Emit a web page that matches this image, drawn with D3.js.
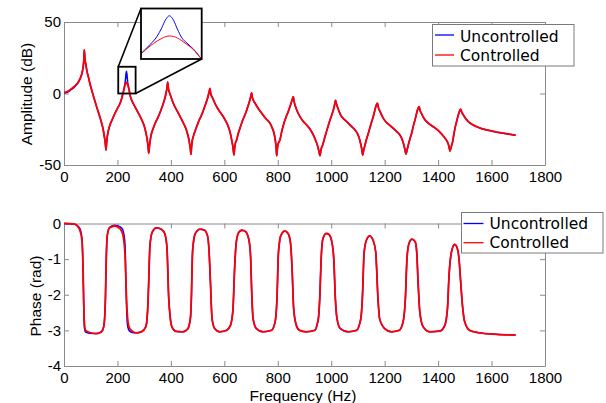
<!DOCTYPE html>
<html>
<head>
<meta charset="utf-8">
<script src="https://cdn.jsdelivr.net/npm/d3@7"></script>
<style>
  html, body { margin: 0; padding: 0; background: #fff; }
  svg { display: block; }
  .axis .tick text { font-family: "Liberation Sans", Arial, sans-serif; font-size: 15px; fill: #000; }
  .axis path, .axis line { stroke: #8a8a8a; }
  .label { font-family: "Liberation Sans", Arial, sans-serif; font-size: 15.5px; fill: #000; }
  .legend text { font-family: "DejaVu Sans", sans-serif; font-size: 15.5px; fill: #000; }
</style>
</head>
<body>
<svg id="chart" width="606" height="403"></svg>
<script>
// ---- amplitude response (dB) ----
const freqAmp = [
  0, 10, 22, 41, 55, 61, 67, 72, 74.5, 76, 78, 82, 86, 91, 97, 103.5, 112, 122, 131, 141, 147, 151, 154.5, 157,
  159.5, 162, 166, 172, 181, 191, 201, 210, 216, 222, 225.8, 228.5, 230.6, 232, 233.7, 235.4, 237, 238.8, 240.9, 243.6, 247, 253, 262, 272, 282, 291, 300, 307, 312, 315, 317,
  320, 324, 334, 343, 353, 363, 372, 378, 382, 385.5, 388, 391, 397, 409, 428, 447, 458, 465, 470, 473, 475,
  477.5, 480, 484, 490, 496.5, 505, 515, 523, 531, 537, 541, 544, 546, 549, 556.5, 571, 584, 596, 606, 615, 622, 627.5, 632, 636,
  638.5, 641, 646, 652, 658.5, 667, 677, 684, 690, 695, 699, 702, 705, 715, 727, 740, 755, 771, 779, 786, 791, 794, 796,
  798.5, 801, 808, 815, 823, 831, 839, 846, 852, 855.5, 858, 861, 871, 883, 895, 908, 921, 933, 941, 948, 953, 958,
  962, 968, 974, 980.5, 988, 995.5, 1002, 1008, 1012.5, 1016, 1019, 1023, 1030, 1039, 1051, 1064, 1076, 1089, 1098, 1105, 1110, 1114, 1118,
  1121, 1126.5, 1132, 1139, 1147, 1155.5, 1161, 1165, 1169, 1173, 1176, 1183, 1192, 1201, 1216, 1232, 1245, 1257, 1265, 1270, 1275, 1280,
  1283, 1288.5, 1295, 1301, 1307, 1313.5, 1318, 1322, 1326, 1329, 1332, 1338.5, 1347, 1357, 1376, 1395, 1408, 1419.5, 1428, 1434.5, 1440, 1444.5,
  1448, 1451, 1454.5, 1459, 1464.5, 1470, 1475.5, 1480, 1484.5, 1488, 1494.5, 1503, 1513, 1527, 1544, 1562, 1582, 1607, 1632, 1660, 1690
];
const ampUncontrolled = [
  0.3, 0.6, 2.0, 4.9, 8.2, 10.6, 14.0, 19.2, 24.5, 30.5, 25.0, 20.0, 15.5, 11.8, 7.0, 2.5, -3.0, -9.2, -14.5, -20.8, -25.5, -30.2, -34.5, -39.5,
  -34.5, -30.2, -26.0, -22.0, -18.0, -13.8, -10.0, -6.8, -3.3, 1.1, 4.6, 7.5, 11.0, 13.8, 15.5, 13.8, 10.4, 7.1, 5.1, 2.8, -1.0, -4.5, -8.0, -11.5, -15.0, -18.5, -22.5, -27.8, -33.0, -37.5, -41.8,
  -36.5, -31.0, -24.3, -20.0, -16.2, -11.5, -6.8, -3.0, 0.5, 4.0, 7.9, 3.0, -0.5, -6.8, -13.8, -20.8, -25.5, -30.2, -35.0, -39.0, -42.5,
  -37.0, -33.0, -30.0, -26.5, -23.2, -19.0, -15.0, -11.0, -6.8, -3.5, -0.5, 1.8, 3.5, 0.0, -3.3, -9.2, -13.0, -16.2, -19.5, -23.2, -27.5, -32.5, -37.0, -43.0,
  -38.0, -35.0, -32.5, -28.0, -24.3, -19.5, -15.0, -11.5, -8.0, -5.0, -2.0, 0.5, -3.0, -6.8, -10.5, -13.8, -17.5, -20.8, -24.0, -27.8, -33.0, -38.0, -43.5,
  -38.5, -35.5, -32.5, -26.5, -20.8, -16.5, -12.7, -9.0, -5.5, -3.5, -2.2, -5.5, -11.5, -16.2, -19.5, -22.0, -25.0, -29.0, -32.5, -36.0, -39.5, -43.5,
  -39.0, -36.0, -32.0, -27.8, -23.0, -18.5, -15.0, -11.5, -8.0, -4.8, -7.0, -9.2, -12.8, -16.2, -18.5, -20.8, -23.0, -25.5, -28.0, -31.3, -35.0, -38.5, -43.0,
  -40.0, -36.0, -32.0, -27.8, -22.5, -17.3, -13.5, -10.3, -8.0, -6.8, -9.5, -12.7, -16.3, -19.0, -21.8, -24.3, -26.6, -29.0, -32.0, -34.8, -38.5, -42.3,
  -40.0, -36.0, -31.5, -27.8, -23.0, -18.5, -15.0, -12.0, -10.0, -9.2, -11.5, -14.3, -17.3, -19.7, -22.5, -25.0, -27.3, -29.7, -31.8, -33.7, -36.5, -40.2,
  -38.0, -36.0, -33.7, -28.5, -23.2, -19.0, -15.0, -12.5, -11.0, -12.8, -15.0, -17.5, -19.7, -21.6, -23.2, -24.5, -25.5, -26.5, -27.4, -28.3, -29.2
];
const ampControlled = [
  0.8, 1.1, 2.5, 5.3, 8.5, 10.7, 14.0, 19.0, 24.0, 30.5, 25.0, 20.0, 15.5, 11.8, 7.0, 2.5, -3.0, -9.2, -14.5, -20.8, -25.5, -30.2, -34.5, -39.5,
  -34.5, -30.2, -26.0, -22.0, -18.0, -13.8, -10.0, -6.8, -3.5, 1.0, 4.0, 5.8, 6.9, 7.5, 7.8, 7.6, 7.0, 6.0, 4.6, 2.6, -1.0, -4.5, -8.0, -11.5, -15.0, -18.5, -22.5, -27.8, -33.0, -37.5, -41.8,
  -36.5, -31.0, -24.3, -20.0, -16.2, -11.5, -6.8, -3.0, 0.5, 4.0, 7.9, 3.0, -0.5, -6.8, -13.8, -20.8, -25.5, -30.2, -35.0, -39.0, -42.5,
  -37.0, -33.0, -30.0, -26.5, -23.2, -19.0, -15.0, -11.0, -6.8, -3.5, -0.5, 1.8, 3.5, 0.0, -3.3, -9.2, -13.0, -16.2, -19.5, -23.2, -27.5, -32.5, -37.0, -43.0,
  -38.0, -35.0, -32.5, -28.0, -24.3, -19.5, -15.0, -11.5, -8.0, -5.0, -2.0, 0.5, -3.0, -6.8, -10.5, -13.8, -17.5, -20.8, -24.0, -27.8, -33.0, -38.0, -43.5,
  -38.5, -35.5, -32.5, -26.5, -20.8, -16.5, -12.7, -9.0, -5.5, -3.5, -2.2, -5.5, -11.5, -16.2, -19.5, -22.0, -25.0, -29.0, -32.5, -36.0, -39.5, -43.5,
  -39.0, -36.0, -32.0, -27.8, -23.0, -18.5, -15.0, -11.5, -8.0, -4.8, -7.0, -9.2, -12.8, -16.2, -18.5, -20.8, -23.0, -25.5, -28.0, -31.3, -35.0, -38.5, -43.0,
  -40.0, -36.0, -32.0, -27.8, -22.5, -17.3, -13.5, -10.3, -8.0, -6.8, -9.5, -12.7, -16.3, -19.0, -21.8, -24.3, -26.6, -29.0, -32.0, -34.8, -38.5, -42.3,
  -40.0, -36.0, -31.5, -27.8, -23.0, -18.5, -15.0, -12.0, -10.0, -9.2, -11.5, -14.3, -17.3, -19.7, -22.5, -25.0, -27.3, -29.7, -31.8, -33.7, -36.5, -40.2,
  -38.0, -36.0, -33.7, -28.5, -23.2, -19.0, -15.0, -12.5, -11.0, -12.8, -15.0, -17.5, -19.7, -21.6, -23.2, -24.5, -25.5, -26.5, -27.4, -28.3, -29.2
];

// ---- phase response (rad) ----
const freqPhase = [
  0, 20, 40, 52, 61, 67.5, 71, 73.7, 76, 81, 96, 121, 140, 148.5, 152.5, 155, 158.5, 162, 171, 190, 208.5, 216, 221, 225, 228.5, 233.5, 236.5, 239.5, 245, 252, 271,
  290, 306, 310.5, 314.5, 318, 321, 325, 331, 346, 358, 370, 377, 382, 385.5, 392, 397, 402, 410, 420.5, 445,
  464, 470, 474, 477, 480.5, 484, 489, 497, 508, 526.5, 534, 539, 543, 548, 554, 564, 582.7,
  608, 623, 628, 632.5, 639, 645, 654, 666, 680, 689, 694, 698, 702.5, 707.5, 720, 745,
  776, 788.5, 793, 797, 802, 806, 810, 826, 838.5, 847, 853, 859.5, 869.5, 882, 907,
  938, 948, 953, 957, 963, 969, 982, 992, 1001, 1009.5, 1015.5, 1021.7, 1034, 1063,
  1094, 1106.5, 1112, 1116.5, 1122.5, 1127, 1131.7, 1144, 1156.7, 1166.5, 1175, 1181, 1200, 1225,
  1254, 1269, 1277.5, 1283.5, 1291, 1302.5, 1314, 1320, 1325, 1331.5, 1344, 1369,
  1406.5, 1425, 1435, 1441, 1450, 1462, 1472, 1478, 1484.5, 1491, 1499.5, 1518, 1555.5, 1618, 1690
];
const phaseUncontrolled = [
  0, -0.005, -0.02, -0.07, -0.17, -0.42, -1.2, -2.3, -2.9, -3.05, -3.08, -3.09, -3.04, -2.9, -2.6, -2.11, -0.89, -0.33, -0.11, -0.05, -0.09, -0.13, -0.2, -0.35, -0.62, -2.2, -2.75, -2.92, -3.02, -3.05, -3.07,
  -3.04, -2.9, -2.7, -2.2, -1.4, -0.7, -0.4, -0.23, -0.12, -0.14, -0.2, -0.28, -0.45, -0.7, -2.11, -2.6, -2.86, -2.98, -3.03, -3.04,
  -2.95, -2.8, -2.58, -2.0, -0.89, -0.55, -0.33, -0.22, -0.16, -0.19, -0.28, -0.42, -0.8, -1.64, -2.67, -2.95, -3.04,
  -3.0, -2.86, -2.7, -2.39, -1.17, -0.51, -0.25, -0.19, -0.23, -0.37, -0.55, -0.89, -1.92, -2.67, -2.95, -3.04,
  -3.0, -2.81, -2.6, -2.11, -0.89, -0.55, -0.37, -0.21, -0.28, -0.51, -1.17, -2.39, -2.86, -3.0, -3.04,
  -3.0, -2.81, -2.6, -2.11, -0.89, -0.42, -0.28, -0.31, -0.47, -0.98, -2.11, -2.67, -2.95, -3.04,
  -3.0, -2.81, -2.6, -2.11, -0.89, -0.6, -0.47, -0.35, -0.47, -0.8, -2.11, -2.67, -2.95, -3.04,
  -3.0, -2.76, -2.11, -0.98, -0.56, -0.44, -0.51, -0.8, -1.64, -2.48, -2.9, -3.04,
  -3.02, -2.86, -2.39, -1.45, -0.8, -0.59, -0.7, -0.98, -1.64, -2.29, -2.76, -3.0, -3.07, -3.11, -3.13
];
const phaseControlled = [
  0, -0.005, -0.02, -0.09, -0.23, -0.51, -1.17, -2.11, -2.76, -3.0, -3.06, -3.09, -3.04, -2.9, -2.6, -2.11, -0.89, -0.33, -0.12, -0.07, -0.14, -0.22, -0.33, -0.55, -0.89, -2.01, -2.5, -2.76, -2.93, -3.0, -3.07,
  -3.04, -2.9, -2.7, -2.2, -1.4, -0.7, -0.4, -0.23, -0.12, -0.14, -0.2, -0.28, -0.45, -0.7, -2.11, -2.6, -2.86, -2.98, -3.03, -3.04,
  -2.95, -2.8, -2.58, -2.0, -0.89, -0.55, -0.33, -0.22, -0.16, -0.19, -0.28, -0.42, -0.8, -1.64, -2.67, -2.95, -3.04,
  -3.0, -2.86, -2.7, -2.39, -1.17, -0.51, -0.25, -0.19, -0.23, -0.37, -0.55, -0.89, -1.92, -2.67, -2.95, -3.04,
  -3.0, -2.81, -2.6, -2.11, -0.89, -0.55, -0.37, -0.21, -0.28, -0.51, -1.17, -2.39, -2.86, -3.0, -3.04,
  -3.0, -2.81, -2.6, -2.11, -0.89, -0.42, -0.28, -0.31, -0.47, -0.98, -2.11, -2.67, -2.95, -3.04,
  -3.0, -2.81, -2.6, -2.11, -0.89, -0.6, -0.47, -0.35, -0.47, -0.8, -2.11, -2.67, -2.95, -3.04,
  -3.0, -2.76, -2.11, -0.98, -0.56, -0.44, -0.51, -0.8, -1.64, -2.48, -2.9, -3.04,
  -3.02, -2.86, -2.39, -1.45, -0.8, -0.59, -0.7, -0.98, -1.64, -2.29, -2.76, -3.0, -3.07, -3.11, -3.13
];

// ---- axes, legend ----
const freqTicks = [0, 200, 400, 600, 800, 1000, 1200, 1400, 1600, 1800];
const ampTicks = [-50, 0, 50];
const phaseTicks = [-4, -3, -2, -1, 0];
const seriesNames = ["Uncontrolled", "Controlled"];
const seriesColors = ["#0000ff", "#ff0000"];

// marker box around the second resonance (Hz, dB) and the magnified view shown in the inset
const zoomBox = { f0: 203, f1: 268, a0: 0, a1: 18.7 };
const insetView = { f0: 222, f1: 247, a0: -1, a1: 18.3 };

const svg = d3.select("#chart");
const plotL = 64, plotR = 545;
const amp = { top: 22, bottom: 165 };
const pha = { top: 223.5, bottom: 366 };

const x = d3.scaleLinear().domain([0, 1800]).range([plotL, plotR]);
const yAmp = d3.scaleLinear().domain([-50, 50]).range([amp.bottom, amp.top]);
const yPha = d3.scaleLinear().domain([-4, 0]).range([pha.bottom, pha.top]);

const fmt = d => String(d);

function drawAxes(yScale, yTicks, box) {
  svg.append("g").attr("class", "axis").attr("transform", `translate(0,${box.bottom})`)
    .call(d3.axisBottom(x).tickValues(freqTicks).tickSize(-5).tickSizeOuter(0).tickPadding(6).tickFormat(fmt));
  svg.append("g").attr("class", "axis").attr("transform", `translate(0,${box.top})`)
    .call(d3.axisTop(x).tickValues(freqTicks).tickSize(-5).tickSizeOuter(0).tickFormat(""));
  svg.append("g").attr("class", "axis").attr("transform", `translate(${plotL},0)`)
    .call(d3.axisLeft(yScale).tickValues(yTicks).tickSize(-5).tickSizeOuter(0).tickPadding(3).tickFormat(fmt));
  svg.append("g").attr("class", "axis").attr("transform", `translate(${plotR},0)`)
    .call(d3.axisRight(yScale).tickValues(yTicks).tickSize(-5).tickSizeOuter(0).tickFormat(""));
}

function drawSeries(freq, values, yScale, color, width, xs = x, parent = svg) {
  const pts = freq.map((f, i) => [f, values[i]]);
  parent.append("path")
    .datum(pts)
    .attr("fill", "none")
    .attr("stroke", color)
    .attr("stroke-width", width)
    .attr("stroke-linejoin", "round")
    .attr("d", d3.line().x(d => xs(d[0])).y(d => yScale(d[1])).curve(d3.curveMonotoneX));
}

function drawLegend(x0, y0, w, h, lineX0, lineX1, textX, rows) {
  const g = svg.append("g").attr("class", "legend");
  g.append("rect").attr("x", x0).attr("y", y0).attr("width", w).attr("height", h)
    .attr("fill", "#fff").attr("stroke", "#7a7a7a").attr("stroke-width", 1);
  rows.forEach((r, i) => {
    g.append("line").attr("x1", lineX0).attr("x2", lineX1).attr("y1", r.lineY).attr("y2", r.lineY)
      .attr("stroke", seriesColors[i]).attr("stroke-width", 1.3);
    g.append("text").attr("x", textX).attr("y", r.textY).text(seriesNames[i]);
  });
}

// ---- amplitude panel ----
drawAxes(yAmp, ampTicks, amp);
drawSeries(freqAmp, ampUncontrolled, yAmp, seriesColors[0], 1.5);
drawSeries(freqAmp, ampControlled, yAmp, seriesColors[1], 1.8);

// ---- phase panel ----
drawAxes(yPha, phaseTicks, pha);
drawSeries(freqPhase, phaseUncontrolled, yPha, seriesColors[0], 1.5);
drawSeries(freqPhase, phaseControlled, yPha, seriesColors[1], 1.8);

// ---- zoom marker and inset ----
const inset = { x: 141, y: 8.5, w: 60.7, h: 50.5 };
const xIn = d3.scaleLinear().domain([insetView.f0, insetView.f1]).range([inset.x, inset.x + inset.w]);
const yIn = d3.scaleLinear().domain([insetView.a0, insetView.a1]).range([inset.y + inset.h, inset.y]);

const bx0 = x(zoomBox.f0), bx1 = x(zoomBox.f1), by0 = yAmp(zoomBox.a1), by1 = yAmp(zoomBox.a0);
svg.append("rect").attr("x", bx0).attr("y", by0).attr("width", bx1 - bx0).attr("height", by1 - by0)
  .attr("fill", "none").attr("stroke", "#000").attr("stroke-width", 1.8);
svg.append("line").attr("x1", bx0).attr("y1", by0).attr("x2", inset.x).attr("y2", inset.y)
  .attr("stroke", "#000").attr("stroke-width", 1.6);
svg.append("line").attr("x1", bx1).attr("y1", by1).attr("x2", inset.x + inset.w).attr("y2", inset.y + inset.h)
  .attr("stroke", "#000").attr("stroke-width", 1.6);

svg.append("defs").append("clipPath").attr("id", "insetClip")
  .append("rect").attr("x", inset.x).attr("y", inset.y).attr("width", inset.w).attr("height", inset.h);
svg.append("rect").attr("x", inset.x).attr("y", inset.y).attr("width", inset.w).attr("height", inset.h)
  .attr("fill", "#fff");
const gIn = svg.append("g").attr("clip-path", "url(#insetClip)");
drawSeries(freqAmp, ampUncontrolled, yIn, seriesColors[0], 1, xIn, gIn);
drawSeries(freqAmp, ampControlled, yIn, seriesColors[1], 1, xIn, gIn);
svg.append("rect").attr("x", inset.x).attr("y", inset.y).attr("width", inset.w).attr("height", inset.h)
  .attr("fill", "none").attr("stroke", "#000").attr("stroke-width", 1.8);

// ---- legends ----
drawLegend(432.5, 24.5, 141.5, 41.5, 435, 454, 460, [
  { lineY: 35, textY: 41.5 }, { lineY: 55, textY: 61 }
]);
drawLegend(461.5, 212.5, 141.5, 40.5, 463.5, 483.5, 489.5, [
  { lineY: 223.5, textY: 229.3 }, { lineY: 242.7, textY: 248.3 }
]);

// ---- axis titles ----
svg.append("text").attr("class", "label")
  .attr("transform", "translate(27,94) rotate(-90)")
  .attr("text-anchor", "middle").attr("dy", "0.35em").text("Amplitude (dB)");
svg.append("text").attr("class", "label")
  .attr("transform", "translate(35.5,296) rotate(-90)")
  .attr("text-anchor", "middle").attr("dy", "0.35em").text("Phase (rad)");
svg.append("text").attr("class", "label")
  .attr("x", 303).attr("y", 400.5).attr("text-anchor", "middle").text("Frequency (Hz)");
</script>
</body>
</html>
